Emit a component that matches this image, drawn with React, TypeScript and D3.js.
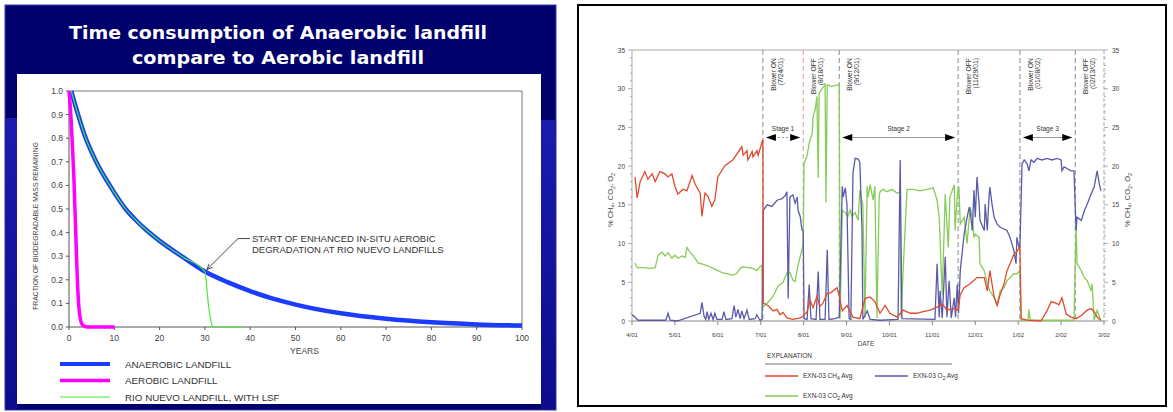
import React from "react";
import * as d3 from "d3";

// ---------- left panel: decay curves ----------
const titleLines = ["Time consumption of Anaerobic landfill", "compare to Aerobic landfill"];

const anaerobicYears = [0.5, 2, 3.5, 6, 9, 12.5, 15, 17, 20, 25, 30, 35, 40, 45, 50, 60, 70, 80, 90, 100];
const anaerobicFraction = [1.0, 0.9, 0.81, 0.7, 0.6, 0.5, 0.448, 0.412, 0.365, 0.298, 0.235, 0.19, 0.152, 0.12, 0.095, 0.058, 0.035, 0.02, 0.011, 0.006];

const aerobicYears = [0, 0.4, 0.8, 1.1, 1.4, 1.7, 1.85, 2.2, 2.5, 2.8, 3.3, 4.0, 10.1];
const aerobicFraction = [1.0, 0.9, 0.75, 0.62, 0.45, 0.28, 0.2, 0.08, 0.035, 0.015, 0.004, 0, 0];

const rioDropYears = [30.4, 30.8, 31.1, 31.4, 31.8, 38.5];
const rioDropFraction = [0.17, 0.09, 0.05, 0.02, 0.0, 0.0];

const yearTicks = [0, 10, 20, 30, 40, 50, 60, 70, 80, 90, 100];
const fractionTicks = [0, 0.1, 0.2, 0.3, 0.4, 0.5, 0.6, 0.7, 0.8, 0.9, 1.0];
const leftLegend = ["ANAEROBIC LANDFILL", "AEROBIC LANDFILL", "RIO NUEVO LANDFILL, WITH LSF"];
const leftColors = ["#1a3cff", "#ff00ff", "#44ee33"];
const leftWidths = [4.5, 3.5, 1.2];

// ---------- right panel: gas readings (x in months after 4/01) ----------
const monthLabels = ["4/01", "5/01", "6/01", "7/01", "8/01", "9/01", "10/01", "11/01", "12/01", "1/02", "2/02", "3/02"];
const percentTicks = [0, 5, 10, 15, 20, 25, 30, 35];

const blowerMonths = [3.05, 3.99, 4.83, 7.6, 9.04, 10.33];
const blowerStates = ["Blower ON", "Blower OFF", "Blower ON", "Blower OFF", "Blower ON", "Blower OFF"];
const blowerDates = ["(7/24/01)", "(8/18/01)", "(9/12/01)", "(11/29/01)", "(01/08/02)", "(02/13/02)"];
const stageNames = ["Stage 1", "Stage 2", "Stage 3"];
const stageStartEvent = [0, 2, 4];

const ch4Series: [number, number][] = [
  [0.07, 18.6], [0.12, 15.9], [0.19, 18.0], [0.3, 19.3], [0.37, 18.3], [0.47, 19.0], [0.54, 18.0], [0.65, 19.3], [0.77, 19.0], [0.84, 18.6],
  [0.93, 19.0], [1.0, 17.4], [1.07, 16.4], [1.19, 17.0], [1.28, 16.8], [1.4, 18.8], [1.47, 17.7], [1.59, 16.5], [1.63, 13.5], [1.7, 16.5],
  [1.77, 16.1], [1.86, 14.8], [1.93, 15.6], [2.0, 18.6], [2.1, 19.5], [2.17, 20.1], [2.35, 20.8], [2.56, 22.5], [2.59, 21.4], [2.68, 22.0],
  [2.7, 20.8], [2.8, 21.9], [2.82, 21.2], [2.91, 22.0], [2.94, 21.4], [3.03, 23.1], [3.05, 23.4], [3.06, 2.3], [3.17, 2.0], [3.29, 1.3],
  [3.38, 1.5], [3.45, 0.8], [3.52, 1.1], [3.61, 0.4], [3.75, 0.2], [3.92, 0.4], [3.99, 0.6], [4.08, 1.2], [4.15, 2.7], [4.22, 1.7],
  [4.31, 3.2], [4.38, 1.9], [4.45, 2.3], [4.55, 3.6], [4.62, 3.6], [4.78, 4.3], [4.83, 3.2], [4.9, 1.3], [5.01, 2.0], [5.15, 0.5],
  [5.31, 0.3], [5.43, 2.9], [5.55, 3.1], [5.66, 2.5], [5.78, 1.0], [5.9, 2.0], [6.01, 1.0], [6.18, 0.5], [6.32, 1.4], [6.48, 1.0],
  [6.64, 1.0], [6.78, 1.2], [6.95, 1.4], [7.11, 1.8], [7.23, 2.2], [7.34, 1.4], [7.48, 1.6], [7.6, 1.4], [7.65, 3.4], [7.74, 4.3],
  [7.88, 4.8], [8.04, 5.6], [8.21, 5.6], [8.28, 3.9], [8.34, 6.5], [8.44, 3.1], [8.51, 2.0], [8.58, 3.4], [8.67, 4.8], [8.74, 6.5],
  [8.81, 7.4], [8.9, 8.6], [8.97, 9.0], [9.04, 9.5], [9.07, 0.3], [9.21, 0.1], [9.53, 0.0], [9.67, 1.3], [9.77, 2.5], [9.88, 2.3],
  [9.95, 2.1], [10.02, 3.0], [10.12, 0.9], [10.23, 0.5], [10.35, 0.3], [10.47, 0.7], [10.61, 1.4], [10.7, 1.6], [10.77, 1.2], [10.84, 0.5],
  [10.93, 0.1],
];

const o2Series: [number, number][] = [
  [0.0, 0.8], [0.05, 0.6], [0.14, 0.1], [0.79, 0.1], [0.84, 1.0], [0.89, 0.1], [1.05, 0.0], [1.59, 1.0], [1.63, 2.4], [1.68, 0.6],
  [1.72, 0.2], [1.75, 1.2], [1.79, 0.2], [1.84, 1.0], [1.89, 0.2], [1.93, 1.0], [1.98, 0.2], [2.1, 0.2], [2.14, 1.2], [2.19, 0.2],
  [2.33, 0.3], [2.38, 2.0], [2.42, 0.5], [2.47, 1.5], [2.52, 0.3], [2.56, 1.3], [2.61, 0.3], [2.68, 1.4], [2.73, 0.2], [2.87, 0.3],
  [2.91, 0.8], [2.98, 0.1], [3.03, 0.2], [3.06, 14.3], [3.15, 15.0], [3.26, 14.8], [3.38, 15.6], [3.5, 15.8], [3.57, 16.2], [3.61, 16.7],
  [3.64, 2.9], [3.68, 16.0], [3.75, 16.3], [3.8, 15.2], [3.85, 16.0], [3.87, 14.3], [3.92, 13.5], [3.96, 11.8], [3.99, 11.6], [4.01, 0.3],
  [4.08, 0.2], [4.13, 4.7], [4.17, 0.3], [4.29, 0.2], [4.34, 6.4], [4.38, 0.2], [4.5, 0.2], [4.55, 9.2], [4.59, 0.2], [4.73, 0.3],
  [4.83, 0.5], [4.9, 17.4], [4.92, 16.0], [4.97, 17.2], [5.01, 15.0], [5.06, 0.3], [5.1, 0.2], [5.15, 19.1], [5.2, 21.0], [5.27, 20.9],
  [5.31, 20.5], [5.36, 11.8], [5.38, 0.2], [5.48, 1.3], [5.55, 0.2], [5.78, 0.1], [6.2, 0.2], [6.25, 20.8], [6.29, 0.3], [7.06, 0.2],
  [7.11, 7.4], [7.16, 0.5], [7.18, 3.9], [7.23, 0.4], [7.3, 8.3], [7.34, 0.5], [7.39, 5.2], [7.44, 0.4], [7.51, 3.0], [7.54, 0.5],
  [7.58, 4.7], [7.61, 1.0], [7.65, 6.5], [7.74, 11.2], [7.81, 13.4], [7.86, 14.7], [7.88, 14.2], [7.93, 11.7], [7.97, 16.9], [8.0, 13.4],
  [8.04, 18.6], [8.09, 15.1], [8.11, 13.0], [8.21, 11.7], [8.23, 15.1], [8.28, 11.7], [8.32, 16.0], [8.34, 17.3], [8.39, 15.1], [8.44, 13.4],
  [8.51, 12.5], [8.58, 12.1], [8.74, 11.7], [8.81, 10.8], [8.9, 9.1], [8.95, 7.4], [8.97, 10.8], [9.02, 9.5], [9.04, 9.5], [9.09, 20.3],
  [9.14, 20.8], [9.21, 20.3], [9.25, 19.4], [9.3, 20.8], [9.37, 20.5], [9.44, 21.0], [9.56, 20.8], [9.67, 21.0], [9.79, 20.8], [9.91, 21.0],
  [10.0, 20.8], [10.02, 19.4], [10.07, 19.9], [10.14, 19.7], [10.23, 19.4], [10.3, 19.4], [10.35, 11.7], [10.37, 13.4], [10.47, 13.0], [10.54, 14.2],
  [10.61, 15.1], [10.7, 16.4], [10.77, 17.3], [10.84, 19.4], [10.89, 17.7], [10.93, 16.8],
];

const co2Series: [number, number][] = [
  [0.07, 7.5], [0.12, 6.9], [0.26, 6.9], [0.42, 6.8], [0.54, 6.9], [0.61, 8.5], [0.7, 8.9], [0.77, 8.4], [0.84, 8.8], [0.93, 8.1],
  [1.0, 8.5], [1.07, 8.1], [1.17, 8.4], [1.24, 8.2], [1.28, 9.5], [1.35, 8.9], [1.42, 8.5], [1.54, 7.5], [1.66, 7.3], [1.77, 7.1],
  [1.89, 6.8], [2.0, 6.5], [2.12, 6.2], [2.24, 6.1], [2.35, 5.9], [2.45, 6.2], [2.52, 6.8], [2.59, 7.0], [2.7, 6.9], [2.82, 6.8],
  [2.91, 6.5], [2.98, 7.0], [3.03, 7.2], [3.05, 1.8], [3.15, 2.3], [3.29, 3.2], [3.4, 4.5], [3.52, 5.0], [3.61, 6.2], [3.68, 6.3],
  [3.75, 5.3], [3.8, 5.1], [3.87, 7.2], [3.92, 8.3], [3.99, 9.9], [4.01, 20.4], [4.08, 21.3], [4.13, 23.0], [4.2, 24.3], [4.22, 26.4],
  [4.27, 27.3], [4.31, 29.0], [4.34, 18.5], [4.36, 29.4], [4.43, 30.0], [4.5, 30.5], [4.52, 15.3], [4.55, 30.5], [4.66, 30.3], [4.78, 30.5],
  [4.83, 30.5], [4.85, 0.3], [4.9, 14.3], [4.97, 14.0], [5.03, 13.5], [5.08, 14.3], [5.13, 13.5], [5.2, 14.0], [5.27, 13.0], [5.31, 16.9],
  [5.38, 15.0], [5.43, 0.4], [5.48, 17.4], [5.5, 16.0], [5.55, 17.6], [5.62, 15.6], [5.66, 17.4], [5.71, 0.4], [5.76, 16.0], [5.78, 16.7],
  [5.85, 17.0], [5.94, 16.7], [6.06, 17.0], [6.18, 16.5], [6.25, 16.7], [6.27, 0.5], [6.34, 9.0], [6.41, 17.0], [6.55, 17.0], [6.71, 16.8],
  [6.88, 17.0], [7.02, 17.2], [7.11, 15.6], [7.16, 13.4], [7.23, 3.4], [7.3, 16.4], [7.37, 9.5], [7.41, 16.0], [7.51, 17.6], [7.53, 11.7],
  [7.58, 16.3], [7.62, 17.3], [7.65, 12.5], [7.74, 13.4], [7.81, 10.0], [7.88, 14.7], [7.93, 13.4], [7.97, 10.8], [8.0, 11.2], [8.09, 10.8],
  [8.11, 7.4], [8.21, 6.5], [8.28, 4.8], [8.34, 3.9], [8.44, 3.0], [8.51, 2.2], [8.58, 3.9], [8.67, 4.3], [8.74, 5.2], [8.81, 5.6],
  [8.9, 6.1], [8.97, 6.1], [9.04, 6.5], [9.07, 0.1], [9.23, 0.1], [9.25, 1.5], [9.28, 0.1], [10.3, 0.1], [10.35, 12.5], [10.37, 7.4],
  [10.47, 6.5], [10.54, 5.6], [10.61, 5.2], [10.7, 3.9], [10.72, 4.8], [10.77, 0.1], [10.84, 1.4], [10.93, 0.0],
];

const gasNames = ["CH", "O", "CO"];
const gasSubs = ["4", "2", "2"];
const gasColors = ["#de4b2e", "#5a5aa8", "#86cc58"];

const sansFont = "'Liberation Sans', Arial, sans-serif";

function GasName({ i }: { i: number }) {
  return (
    <>
      EXN-03 {gasNames[i]}
      <tspan fontSize={5} dy={1.5}>{gasSubs[i]}</tspan>
      <tspan dy={-1.5}> Avg</tspan>
    </>
  );
}

function PercentLabel() {
  return (
    <>
      % CH<tspan fontSize={5.5} dy={1.5}>4</tspan>
      <tspan dy={-1.5}>, CO</tspan>
      <tspan fontSize={5.5} dy={1.5}>2</tspan>
      <tspan dy={-1.5}>, O</tspan>
      <tspan fontSize={5.5} dy={1.5}>2</tspan>
    </>
  );
}

export default function App() {
  // left scales
  const lx = d3.scaleLinear().domain([0, 100]).range([69, 522]);
  const ly = d3.scaleLinear().domain([0, 1]).range([327, 91]);
  const smooth = d3
    .line<[number, number]>()
    .x((d) => lx(d[0]))
    .y((d) => ly(d[1]))
    .curve(d3.curveMonotoneX);

  const anaerobicPts = anaerobicYears.map((y, i) => [y, anaerobicFraction[i]] as [number, number]);
  const aerobicPts = aerobicYears.map((y, i) => [y, aerobicFraction[i]] as [number, number]);
  const rioPts = anaerobicPts
    .filter((d) => d[0] <= 30)
    .concat(rioDropYears.map((y, i) => [y, rioDropFraction[i]] as [number, number]));

  // right scales
  const rx = d3.scaleLinear().domain([0, 11]).range([632, 1104]);
  const ry = d3.scaleLinear().domain([0, 35]).range([321, 50]);
  const gasLine = d3
    .line<[number, number]>()
    .x((d) => rx(d[0]))
    .y((d) => ry(d[1]));
  const minorTicks = d3.range(0, 36, 1);

  const arrowY = ry(23.7);
  const annX = lx(30);
  const annY = ly(0.235);

  return (
    <div style={{ position: "absolute", left: 0, top: 0 }}>
      <svg width={1173} height={412} style={{ display: "block", background: "#fff" }}>
        <defs>
          <linearGradient id="sideBlue" x1="0" y1="0" x2="0" y2="1">
            <stop offset="0" stopColor="#1b1bb0" />
            <stop offset="1" stopColor="#0c0c8c" />
          </linearGradient>
          <marker id="annArrow" viewBox="0 0 10 10" refX="9" refY="5" markerWidth="7" markerHeight="7" orient="auto">
            <path d="M0,1 L9,5 L0,9" fill="none" stroke="#333" strokeWidth={1.3} />
          </marker>
        </defs>

        {/* ===== LEFT PANEL ===== */}
        <rect x={5} y={5} width={551} height={405} fill="#00006c" stroke="#3a3ab4" strokeWidth={1} />
        <rect x={6} y={118} width={11} height={291} fill="url(#sideBlue)" />
        <rect x={541} y={120} width={14} height={289} fill="url(#sideBlue)" />
        <rect x={17} y={74} width={524} height={330} fill="#ffffff" />
        {titleLines.map((t, i) => (
          <text
            key={t}
            x={278}
            y={39 + i * 25}
            textAnchor="middle"
            fill="#ffffff"
            fontFamily="'DejaVu Sans', Verdana, sans-serif"
            fontWeight="bold"
            fontSize={18.5}
            textLength={i === 0 ? 418 : 292}
            lengthAdjust="spacingAndGlyphs"
          >
            {t}
          </text>
        ))}

        {/* frame */}
        <line x1={lx(0)} x2={lx(100)} y1={ly(1)} y2={ly(1)} stroke="#777" strokeWidth={1} />
        <line x1={lx(100)} x2={lx(100)} y1={ly(1)} y2={ly(0)} stroke="#777" strokeWidth={1} />
        <line x1={lx(0)} x2={lx(100)} y1={ly(0)} y2={ly(0)} stroke="#555" strokeWidth={1} />
        <line x1={lx(0)} x2={lx(0)} y1={ly(1)} y2={ly(0)} stroke="#555" strokeWidth={1} />
        {fractionTicks.map((v) => (
          <g key={v}>
            <line x1={lx(0) - 3} x2={lx(0)} y1={ly(v)} y2={ly(v)} stroke="#555" />
            <text x={lx(0) - 6} y={ly(v) + 3} textAnchor="end" fontSize={8.5} fill="#444" fontFamily={sansFont}>
              {d3.format(".1f")(v)}
            </text>
          </g>
        ))}
        {yearTicks.map((v) => (
          <g key={v}>
            <line x1={lx(v)} x2={lx(v)} y1={ly(0)} y2={ly(0) + 3} stroke="#555" />
            <text x={lx(v)} y={ly(0) + 14} textAnchor="middle" fontSize={8.5} fill="#444" fontFamily={sansFont}>
              {v}
            </text>
          </g>
        ))}
        <text x={(lx(0) + lx(100)) / 2 + 9} y={354} textAnchor="middle" fontSize={8.5} fill="#444" fontFamily={sansFont}>
          YEARS
        </text>
        <text
          transform={`translate(38,${(ly(0) + ly(1)) / 2 + 17}) rotate(-90)`}
          textAnchor="middle"
          fontSize={6.8}
          fill="#444"
          fontFamily={sansFont}
        >
          FRACTION OF BIODEGRADABLE MASS REMAINING
        </text>

        <path d={smooth(anaerobicPts) || ""} fill="none" stroke={leftColors[0]} strokeWidth={leftWidths[0]} />
        <path d={smooth(aerobicPts) || ""} fill="none" stroke={leftColors[1]} strokeWidth={leftWidths[1]} />
        <path d={smooth(rioPts) || ""} fill="none" stroke={leftColors[2]} strokeWidth={leftWidths[2]} />

        <polyline
          points={`250,${annY - 33} 238,${annY - 33} ${annX + 2},${annY - 2}`}
          fill="none"
          stroke="#333"
          strokeWidth={0.9}
          markerEnd="url(#annArrow)"
        />
        <text x={252} y={242} fontSize={9.5} fill="#333" fontFamily={sansFont}>
          START OF ENHANCED IN-SITU AEROBIC
        </text>
        <text x={252} y={253} fontSize={9.5} fill="#333" fontFamily={sansFont}>
          DEGRADATION AT RIO NUEVO LANDFILLS
        </text>

        {leftLegend.map((name, i) => (
          <g key={name}>
            <line x1={60} x2={110} y1={364 + i * 16.5} y2={364 + i * 16.5} stroke={leftColors[i]} strokeWidth={leftWidths[i] - (i === 0 ? 0.5 : 0)} />
            <text x={125} y={367.5 + i * 16.5} fontSize={9.8} fill="#333" fontFamily={sansFont}>
              {name}
            </text>
          </g>
        ))}

        {/* ===== RIGHT PANEL ===== */}
        <rect x={578} y={5} width={588} height={401} fill="#ffffff" stroke="#000" strokeWidth={2} />

        {/* axes */}
        <line x1={rx(0)} x2={rx(11)} y1={ry(35)} y2={ry(35)} stroke="#aaa" />
        <line x1={rx(0)} x2={rx(11)} y1={ry(0)} y2={ry(0)} stroke="#888" strokeWidth={1.2} />
        <line x1={rx(0)} x2={rx(0)} y1={ry(35)} y2={ry(0)} stroke="#aaa" />
        <line x1={rx(11)} x2={rx(11)} y1={ry(35)} y2={ry(0)} stroke="#aaa" strokeDasharray="4,2" />
        {minorTicks.map((v) => (
          <g key={v}>
            <line x1={rx(0) - (v % 5 === 0 ? 4 : 2)} x2={rx(0)} y1={ry(v)} y2={ry(v)} stroke="#999" strokeWidth={0.8} />
            <line x1={rx(11)} x2={rx(11) + (v % 5 === 0 ? 4 : 2)} y1={ry(v)} y2={ry(v)} stroke="#999" strokeWidth={0.8} />
          </g>
        ))}
        {percentTicks.map((v) => (
          <g key={v}>
            <text x={rx(0) - 7} y={ry(v) + 2.5} textAnchor="end" fontSize={6.5} fill="#444" fontFamily={sansFont}>
              {v}
            </text>
            <text x={rx(11) + 8} y={ry(v) + 2.5} textAnchor="start" fontSize={6.5} fill="#444" fontFamily={sansFont}>
              {v}
            </text>
          </g>
        ))}
        {monthLabels.map((m, i) => (
          <g key={i}>
            <line x1={rx(i)} x2={rx(i)} y1={ry(0)} y2={ry(0) + 4} stroke="#888" />
            <text x={rx(i)} y={ry(0) + 16} textAnchor="middle" fontSize={6} fill="#444" fontFamily={sansFont}>
              {m}
            </text>
          </g>
        ))}
        <text x={866} y={ry(0) + 25} textAnchor="middle" fontSize={6.5} fill="#444" fontFamily={sansFont}>
          DATE
        </text>
        <text transform={`translate(613,200) rotate(-90)`} textAnchor="middle" fontSize={7.5} fill="#444" fontFamily={sansFont}>
          <PercentLabel />
        </text>
        <text transform={`translate(1130,200) rotate(-90)`} textAnchor="middle" fontSize={7.5} fill="#444" fontFamily={sansFont}>
          <PercentLabel />
        </text>

        {/* blower events */}
        {blowerMonths.map((m, i) => (
          <g key={i}>
            <line x1={rx(m)} x2={rx(m)} y1={ry(35)} y2={ry(0)} stroke={i === 1 ? "#d49a9a" : "#8a8a8a"} strokeDasharray="5,3" />
            <text transform={`translate(${rx(m) + 13},58) rotate(-90)`} textAnchor="end" fontSize={6.8} fill="#333" fontFamily={sansFont}>
              {blowerStates[i]}
            </text>
            <text transform={`translate(${rx(m) + 20},58) rotate(-90)`} textAnchor="end" fontSize={6.8} fill="#333" fontFamily={sansFont}>
              {blowerDates[i]}
            </text>
          </g>
        ))}

        {/* stages */}
        {stageNames.map((s, i) => {
          const a = rx(blowerMonths[stageStartEvent[i]]) + 3;
          const b = rx(blowerMonths[stageStartEvent[i] + 1]) - 3;
          return (
            <g key={s}>
              <line x1={a + 8} x2={b - 8} y1={arrowY} y2={arrowY} stroke="#666" strokeWidth={0.7} strokeDasharray={i === 0 ? "2,2" : undefined} />
              <path d={`M${a},${arrowY} L${a + 10},${arrowY - 3.5} L${a + 10},${arrowY + 3.5} Z`} fill="#000" />
              <path d={`M${b},${arrowY} L${b - 10},${arrowY - 3.5} L${b - 10},${arrowY + 3.5} Z`} fill="#000" />
              <text x={(a + b) / 2} y={arrowY - 6} textAnchor="middle" fontSize={6.5} fill="#333" fontFamily={sansFont}>
                {s}
              </text>
            </g>
          );
        })}

        {/* series */}
        <path d={gasLine(co2Series) || ""} fill="none" stroke={gasColors[2]} strokeWidth={1.3} />
        <path d={gasLine(o2Series) || ""} fill="none" stroke={gasColors[1]} strokeWidth={1.3} />
        <path d={gasLine(ch4Series) || ""} fill="none" stroke={gasColors[0]} strokeWidth={1.3} />

        {/* explanation */}
        <text x={767} y={358} fontSize={6.5} fill="#333" fontFamily={sansFont}>
          EXPLANATION
        </text>
        <line x1={765} x2={952} y1={364} y2={364} stroke="#555" strokeWidth={0.8} />
        {[0, 1, 2].map((i) => {
          const lxp = i === 1 ? 875 : 765;
          const lyp = i === 2 ? 396 : 376;
          return (
            <g key={i}>
              <line x1={lxp} x2={lxp + 33} y1={lyp} y2={lyp} stroke={gasColors[i]} strokeWidth={1.3} />
              <text x={lxp + 38} y={lyp + 2.2} fontSize={6.5} fill="#333" fontFamily={sansFont}>
                <GasName i={i} />
              </text>
            </g>
          );
        })}
      </svg>
    </div>
  );
}
